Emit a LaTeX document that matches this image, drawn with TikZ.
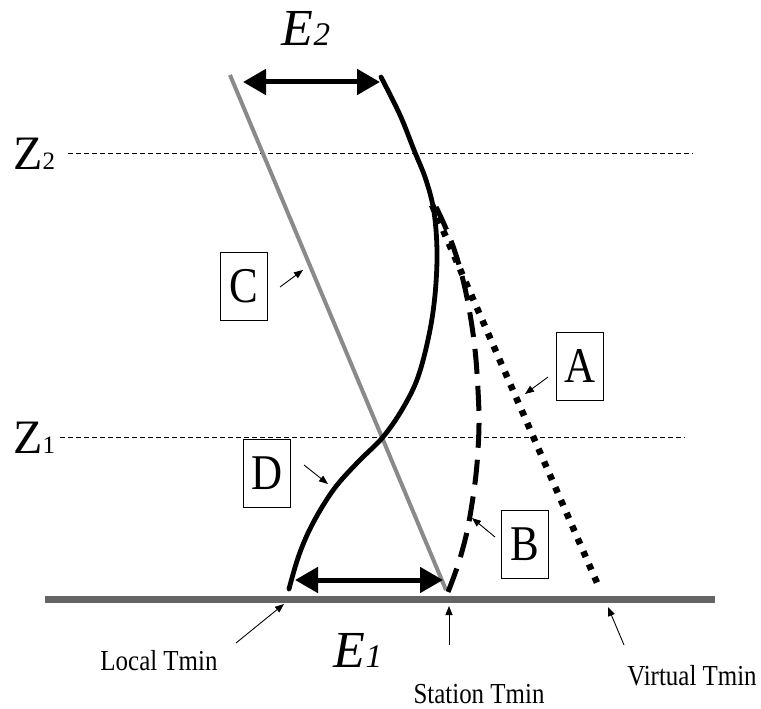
\documentclass[tikz,border=0pt]{standalone}
\usepackage{fontspec}
\setmainfont{Liberation Serif}
\newfontfamily\condensed[FakeStretch=0.86]{Liberation Serif}
\usetikzlibrary{arrows.meta}
\definecolor{groundgray}{RGB}{100,100,100}
\definecolor{linegray}{RGB}{138,138,138}
\begin{document}
\begin{tikzpicture}[x=1pt,y=-1pt,
  bigarrow/.style={line width=5pt,{Triangle[length=23pt,width=25pt]}-{Triangle[length=23pt,width=25pt]}},
  smallarrow/.style={line width=0.9pt,-{Triangle[length=9pt,width=7pt]}},
  letterbox/.style={draw,line width=0.8pt,minimum width=47pt,minimum height=68pt,inner sep=0pt,font=\condensed\fontsize{50}{54}\selectfont},
  levelline/.style={line width=0.8pt,dash pattern=on 5pt off 3pt},
  biglabel/.style={anchor=base,inner sep=0pt,font=\fontsize{48}{52}\selectfont},
  smalllabel/.style={anchor=base,inner sep=0pt,font=\condensed\fontsize{29}{32}\selectfont},
  profile/.style={line width=4.8pt,line cap=round}
]
\useasboundingbox (0,0) rectangle (761,709);

% ground
\coordinate (g1) at (45,599);
\coordinate (g2) at (715,599);
\draw[groundgray,line width=7pt] (g1) -- (g2);

% level lines
\coordinate (z2a) at (68,153);
\coordinate (z2b) at (693,153);
\coordinate (z1a) at (60,437);
\coordinate (z1b) at (685,437);
\draw[levelline] (z2a) -- (z2b);
\draw[levelline] (z1a) -- (z1b);
\node[biglabel,anchor=base west] (Z2) at (13,169) {Z\fontsize{25}{26}\selectfont 2};
\node[biglabel,anchor=base west] (Z1) at (13,453) {Z\fontsize{25}{26}\selectfont 1};

% gray line C
\coordinate (ctop) at (230,75);
\coordinate (cbot) at (446,590);
\draw[linegray,line width=4pt] (ctop) -- (cbot);

% dotted line A
\coordinate (atop) at (432,205);
\coordinate (abot) at (598,585);
\draw[line width=6.5pt,dash pattern=on 6pt off 8pt] (atop) -- (abot);

% dashed line B
\draw[line width=5pt,dash pattern=on 25pt off 12pt]
  plot[smooth,tension=0.7] coordinates {(436,207) (456,255) (471,320) (478,390) (478,450) (471,510) (461,555) (448,592)};

% black profile D
\draw[profile]
  plot[smooth,tension=0.6] coordinates {(381,77) (400,115) (414,150) (426,180) (434,212) (437,252) (435,295) (429,335) (418,377) (403,408) (383,437) (358,462) (334,489) (313,523) (299,555) (289,589)};

% E2 and E1 arrows
\coordinate (e2l) at (243,82);
\coordinate (e2r) at (380,82);
\draw[bigarrow] (e2l) -- (e2r);
\node[biglabel,font=\fontsize{52}{56}\selectfont\itshape] (E2) at (306,46) {E\fontsize{33}{34}\selectfont 2};
\coordinate (e1l) at (295,580);
\coordinate (e1r) at (443,580);
\draw[bigarrow] (e1l) -- (e1r);
\node[biglabel,font=\fontsize{52}{56}\selectfont\itshape] (E1) at (358,667) {E\fontsize{33}{34}\selectfont 1};

% letter boxes
\node[letterbox] (C) at (244,286) {C};
\node[letterbox] (D) at (267,473) {D};
\node[letterbox] (B) at (525,544) {B};
\node[letterbox] (A) at (580,366) {A};

\coordinate (cs) at (280,287); \coordinate (ct) at (303,270);
\coordinate (ds) at (304,465); \coordinate (dt) at (328,484);
\coordinate (bs) at (495,537); \coordinate (bt) at (472,518);
\coordinate (as) at (548,377); \coordinate (at) at (525,394);
\draw[smallarrow] (cs) -- (ct);
\draw[smallarrow] (ds) -- (dt);
\draw[smallarrow] (bs) -- (bt);
\draw[smallarrow] (as) -- (at);

% bottom labels
\node[smalllabel] (local) at (159,670) {Local Tmin};
\node[smalllabel] (station) at (479,703) {Station Tmin};
\node[smalllabel] (virtual) at (692,685) {Virtual Tmin};
\coordinate (ls) at (236,643); \coordinate (lt) at (284,604);
\coordinate (ss) at (449,645); \coordinate (st) at (449,606);
\coordinate (vs) at (624,645); \coordinate (vt) at (608,607);
\draw[smallarrow] (ls) -- (lt);
\draw[smallarrow] (ss) -- (st);
\draw[smallarrow] (vs) -- (vt);
\end{tikzpicture}
\end{document}
